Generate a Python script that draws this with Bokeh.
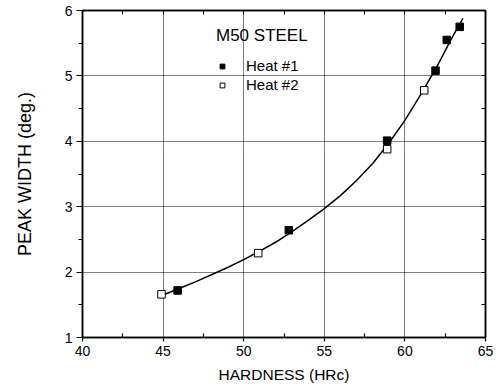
from bokeh.plotting import figure
from bokeh.models import Range1d, LinearAxis, Legend, LegendItem, FixedTicker, CustomLabelingPolicy
from bokeh.embed import file_html
from bokeh.resources import INLINE

heat1_x = [45.9, 52.8, 58.9, 61.9, 62.6, 63.4]
heat1_y = [1.72, 2.64, 4.01, 5.08, 5.55, 5.75]
heat2_x = [44.9, 50.9, 58.9, 61.2]
heat2_y = [1.66, 2.29, 3.88, 4.78]
fit_x = [45, 46, 47, 48, 49, 50, 51, 52, 53, 54, 55, 56, 57, 58, 59, 60, 61, 62, 63, 63.6]
fit_y = [1.65, 1.75, 1.85, 1.96, 2.07, 2.19, 2.32, 2.46, 2.62, 2.79, 2.97, 3.17, 3.40,
         3.66, 3.97, 4.32, 4.72, 5.15, 5.62, 5.88]
x_ticks = [40, 45, 50, 55, 60, 65]
x_minor = [42.5, 47.5, 52.5, 57.5, 62.5]
y_ticks = [1, 2, 3, 4, 5, 6]
y_minor = [1.5, 2.5, 3.5, 4.5, 5.5]

FONT = "Liberation Sans"

p = figure(width=496, height=389, output_backend="svg", toolbar_location=None,
           x_range=Range1d(40, 65), y_range=Range1d(1, 6),
           min_border_left=82, min_border_right=11, min_border_top=10, min_border_bottom=52)
p.outline_line_color = "black"
p.outline_line_width = 1.5
p.background_fill_color = "white"

for ax in (p.xaxis[0], p.yaxis[0]):
    ax.axis_line_width = 1.5
    ax.major_tick_line_width = 1.2
    ax.minor_tick_line_width = 1.2
    ax.major_label_text_font = FONT
    ax.major_label_text_font_size = "14px"
    ax.major_label_text_color = "black"
    ax.axis_label_text_font = FONT
    ax.axis_label_text_font_style = "normal"
    ax.axis_label_text_color = "black"

p.xaxis.ticker = FixedTicker(ticks=x_ticks, minor_ticks=x_minor)
p.yaxis.ticker = FixedTicker(ticks=y_ticks, minor_ticks=y_minor)
p.xaxis.axis_label = "HARDNESS (HRc)"
p.yaxis.axis_label = "PEAK WIDTH (deg.)"
p.xaxis.axis_label_text_font_size = "15.5px"
p.yaxis.axis_label_text_font_size = "18px"
p.xaxis.major_tick_in = 0
p.xaxis.major_tick_out = 4
p.xaxis.minor_tick_in = 4
p.xaxis.minor_tick_out = 0
p.yaxis.major_tick_in = 0
p.yaxis.major_tick_out = 6
p.yaxis.minor_tick_in = 0
p.yaxis.minor_tick_out = 4
p.xaxis.major_label_standoff = 4
p.yaxis.major_label_standoff = 4
p.xaxis.axis_label_standoff = 7
p.yaxis.axis_label_standoff = 27

hide = CustomLabelingPolicy(code="for (const i of indices) indices.unset(i)")
top = LinearAxis(ticker=FixedTicker(ticks=x_ticks, minor_ticks=x_minor),
                 major_label_policy=hide, major_tick_in=4, major_tick_out=0,
                 minor_tick_in=4, minor_tick_out=0, axis_line_width=1.5,
                 major_label_standoff=0, major_label_text_font_size="1px")
right = LinearAxis(ticker=FixedTicker(ticks=y_ticks, minor_ticks=y_minor),
                   major_label_policy=hide, major_tick_in=4, major_tick_out=0,
                   minor_tick_in=4, minor_tick_out=0, axis_line_width=1.5,
                   major_label_standoff=0, major_label_text_font_size="1px")
p.add_layout(top, "above")
p.add_layout(right, "right")

for g in (p.xgrid[0], p.ygrid[0]):
    g.grid_line_color = "black"
    g.grid_line_dash = "1 1"
    g.grid_line_width = 1

p.line(fit_x, fit_y, line_color="black", line_width=1.5)
r1 = p.scatter(heat1_x, heat1_y, marker="square", size=7.5, fill_color="black", line_color="black")
r2 = p.scatter(heat2_x, heat2_y, marker="square", size=7.5, fill_color="white", line_color="black", line_width=1)

legend = Legend(items=[LegendItem(label="Heat #1", renderers=[r1]),
                       LegendItem(label="Heat #2", renderers=[r2])],
                location=(134, 243), title="M50 STEEL")
legend.title_text_font = FONT
legend.title_text_font_size = "17px"
legend.title_text_font_style = "normal"
legend.title_text_color = "black"
legend.title_standoff = 10
legend.label_text_font = FONT
legend.label_text_font_size = "15px"
legend.label_text_color = "black"
legend.label_height = 19
legend.glyph_height = 12
legend.glyph_width = 12
legend.label_standoff = 18
legend.spacing = 0
legend.padding = 0
legend.margin = 0
legend.border_line_color = None
legend.background_fill_alpha = 0
p.add_layout(legend, "center")

open("out.html", "w").write(file_html(p, INLINE))
